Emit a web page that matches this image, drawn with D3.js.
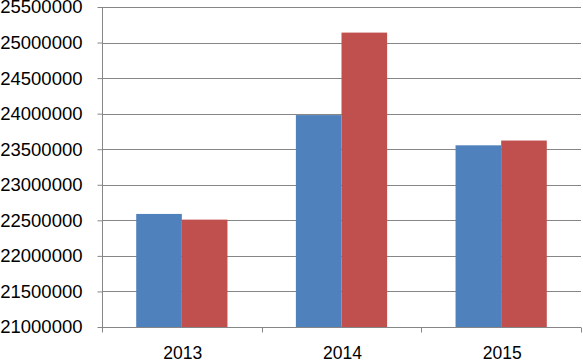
<!DOCTYPE html>
<html><head><meta charset="utf-8">
<script src="https://cdn.jsdelivr.net/npm/d3@7"></script>
<style>html,body{margin:0;padding:0;background:#fff;overflow:hidden}</style>
</head><body>
<script>
const categories = ["2013", "2014", "2015"];
const seriesNames = ["Series1", "Series2"];
const series1 = [22590000, 23980000, 23555000];
const series2 = [22510000, 25140000, 23622000];
const yTicks = [21000000, 21500000, 22000000, 22500000, 23000000, 23500000, 24000000, 24500000, 25000000, 25500000];
const colors = ["#4F81BD", "#C0504D"];

const W = 583, H = 360;
const mLeft = 102, mRight = 581, mTop = 7, mBottom = 327;
const svg = d3.select("body").append("svg").attr("width", W).attr("height", H);

const y = d3.scaleLinear().domain([21000000, 25500000]).range([mBottom, mTop]);
const xCat = d3.scaleBand().domain(categories).range([mLeft, mRight]).padding(0);
const gap = 1.5 / 3.5;
const x = d3.scaleBand().domain(categories).range([mLeft, mRight]).paddingInner(gap).paddingOuter(gap / 2);
const xs = d3.scaleBand().domain(seriesNames).range([0, x.bandwidth()]);

// gridlines
svg.append("g").selectAll("line").data(yTicks.slice(1)).join("line")
  .attr("x1", mLeft).attr("x2", mRight)
  .attr("y1", d => Math.round(y(d)) + 0.5).attr("y2", d => Math.round(y(d)) + 0.5)
  .attr("stroke", "#868686").attr("stroke-width", 1);

// bars
const data = categories.map((c, i) => ({c, vals: [series1[i], series2[i]]}));
const g = svg.append("g").selectAll("g").data(data).join("g")
  .attr("transform", d => `translate(${x(d.c)},0)`);
g.selectAll("rect").data(d => d.vals.map((v, j) => ({v, s: seriesNames[j], j}))).join("rect")
  .attr("x", d => xs(d.s)).attr("width", xs.bandwidth())
  .attr("y", d => y(d.v)).attr("height", d => mBottom - y(d.v))
  .attr("fill", d => colors[d.j]);

// y axis
const yAxis = d3.axisLeft(y).tickValues(yTicks).tickSize(5).tickPadding(4).tickFormat(d3.format("d"));
const ya = svg.append("g").attr("transform", `translate(${mLeft + 0.5},0)`).call(yAxis);
ya.select(".domain").attr("stroke", "#868686").attr("d", `M0,${mTop}V${mBottom + 0.5}`);
ya.selectAll(".tick line").attr("stroke", "#868686");
ya.selectAll(".tick text").attr("font-family", "Liberation Sans, Arial, sans-serif").attr("font-size", 18.5).attr("fill", "#000").attr("x", -20);

// x axis
const bx = svg.append("g").attr("transform", `translate(0,${mBottom + 0.5})`);
bx.append("line").attr("x1", mLeft).attr("x2", mRight).attr("stroke", "#868686");
const bounds = categories.map(c => xCat(c)).concat([mRight]);
bx.selectAll("line.t").data(bounds).join("line").attr("class", "t")
  .attr("x1", d => Math.round(d) + 0.5).attr("x2", d => Math.round(d) + 0.5)
  .attr("y1", 0).attr("y2", 5).attr("stroke", "#868686");
bx.selectAll("text").data(categories).join("text")
  .attr("x", d => xCat(d) + xCat.bandwidth() / 2 + 1)
  .attr("y", 31)
  .attr("text-anchor", "middle")
  .attr("font-family", "Liberation Sans, Arial, sans-serif").attr("font-size", 17.5).attr("fill", "#000")
  .text(d => d);
</script>
</body></html>
